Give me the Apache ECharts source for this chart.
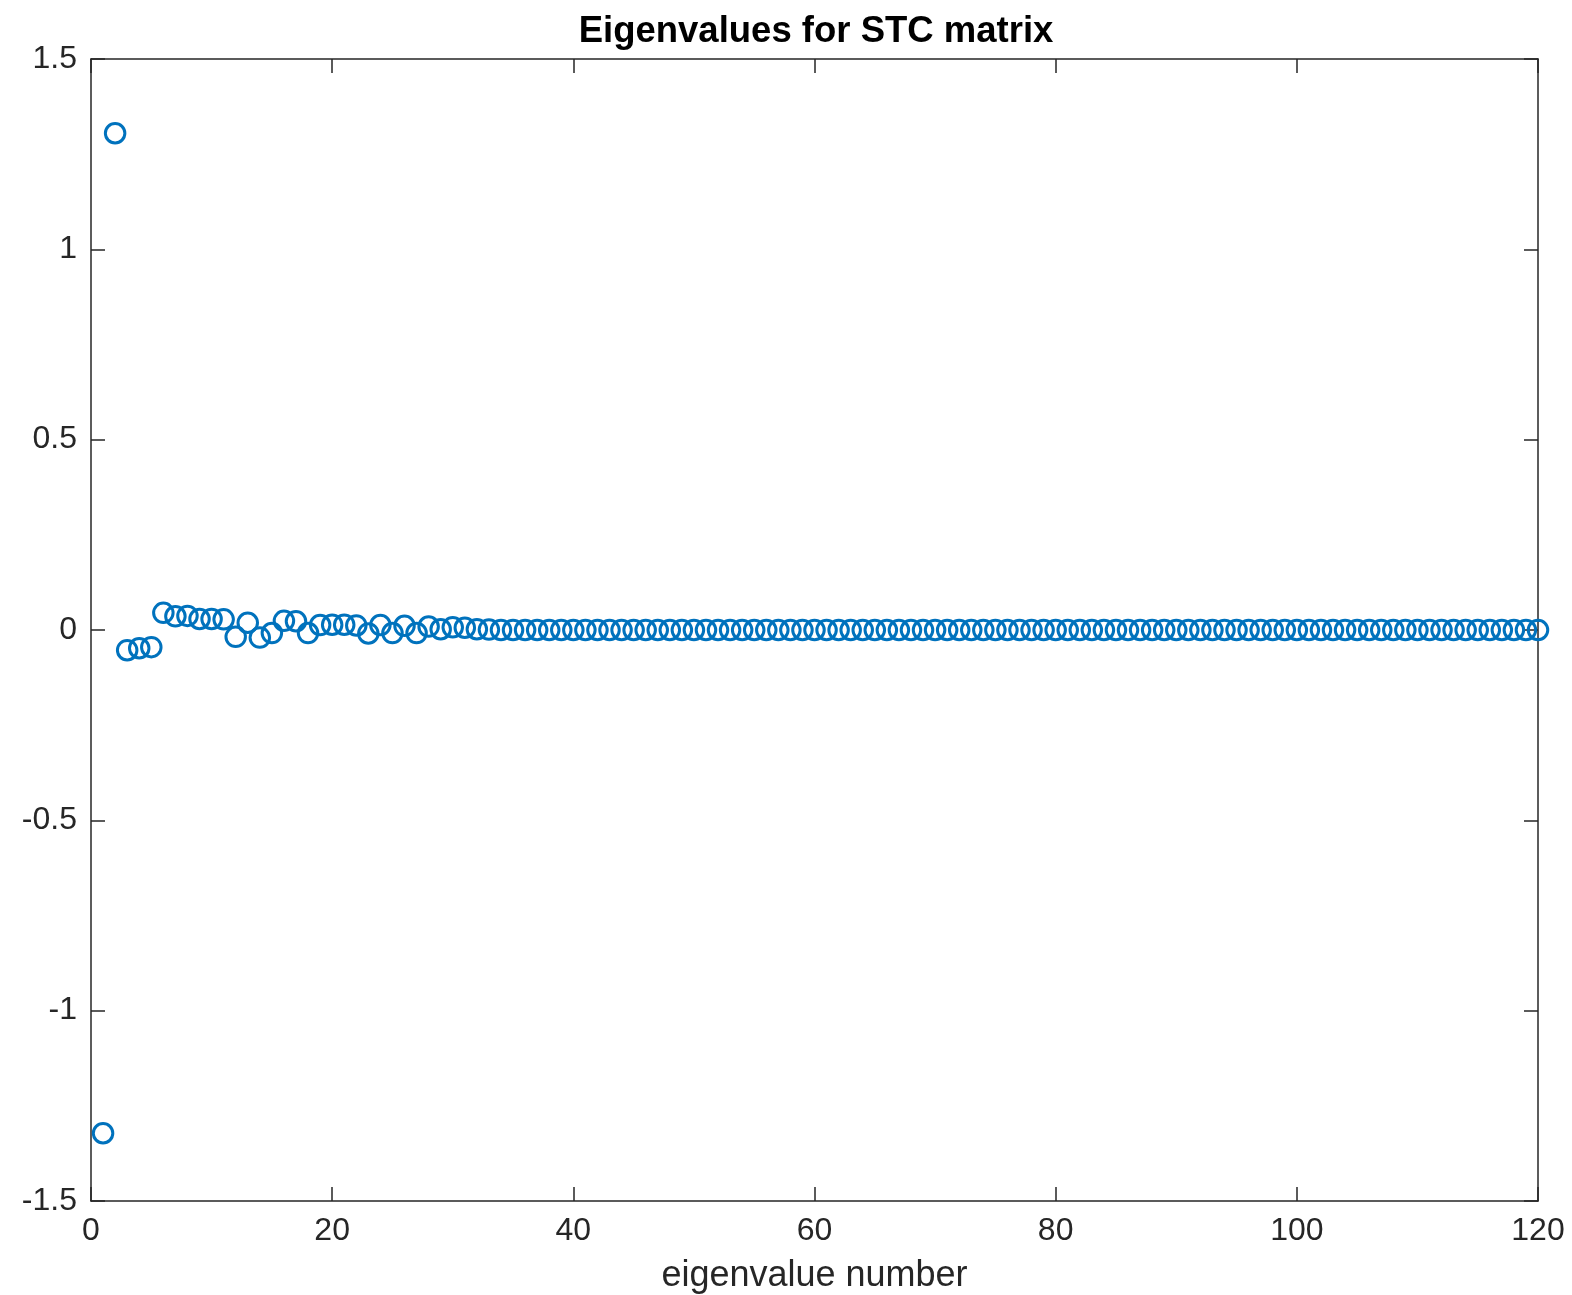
<!DOCTYPE html>
<html>
<head>
<meta charset="utf-8">
<script src="https://cdn.jsdelivr.net/npm/echarts@6/dist/echarts.min.js"></script>
<style>
html,body{margin:0;padding:0;background:#fff;}
#chart{width:1572px;height:1295px;}
</style>
</head>
<body>
<div id="chart"></div>
<script>
// Eigenvalue numbers (x) and eigenvalues (y)
const eigenNumbers = [
  1,2,3,4,5,6,7,8,9,10,11,12,13,14,15,16,17,18,19,20,
  21,22,23,24,25,26,27,28,29,30,31,32,33,34,35,36,37,38,39,40,
  41,42,43,44,45,46,47,48,49,50,51,52,53,54,55,56,57,58,59,60,
  61,62,63,64,65,66,67,68,69,70,71,72,73,74,75,76,77,78,79,80,
  81,82,83,84,85,86,87,88,89,90,91,92,93,94,95,96,97,98,99,100,
  101,102,103,104,105,106,107,108,109,110,111,112,113,114,115,116,117,118,119,120
];
const eigenValues = [
  -1.322, 1.305, -0.053, -0.048, -0.045, 0.045, 0.036, 0.037, 0.029, 0.029,
  0.028, -0.018, 0.019, -0.020, -0.008, 0.024, 0.023, -0.008, 0.013, 0.014,
  0.014, 0.012, -0.009, 0.013, -0.008, 0.011, -0.008, 0.009, 0.002, 0.007,
  0.006, 0.002, 0.001, 0, 0, 0, 0, 0, 0, 0,
  0, 0, 0, 0, 0, 0, 0, 0, 0, 0,
  0, 0, 0, 0, 0, 0, 0, 0, 0, 0,
  0, 0, 0, 0, 0, 0, 0, 0, 0, 0,
  0, 0, 0, 0, 0, 0, 0, 0, 0, 0,
  0, 0, 0, 0, 0, 0, 0, 0, 0, 0,
  0, 0, 0, 0, 0, 0, 0, 0, 0, 0,
  0, 0, 0, 0, 0, 0, 0, 0, 0, 0,
  0, 0, 0, 0, 0, 0, 0, 0, 0, 0
];
const xTicks = { min: 0, max: 120, interval: 20 };
const yTicks = { min: -1.5, max: 1.5, interval: 0.5 };
const titleText = 'Eigenvalues for STC matrix';
const xLabel = 'eigenvalue number';

const FONT = "'Liberation Sans', Arial, Helvetica, sans-serif";
const AX = '#262626';
const lineStyle = { color: AX, width: 1.5 };
const tickStyle = { show: true, inside: true, length: 14, lineStyle: { color: AX, width: 1.5 } };
const axisLine = { show: true, onZero: false, lineStyle };

const chart = echarts.init(document.getElementById('chart'), null, { renderer: 'canvas' });
chart.setOption({
  animation: false,
  backgroundColor: '#ffffff',
  title: {
    text: titleText,
    left: 811, textAlign: 'center',
    top: 8,
    textStyle: { fontFamily: FONT, fontWeight: 'bold', fontSize: 36.5, color: '#000' }
  },
  grid: { left: 91, right: 34, top: 59, bottom: 94, containLabel: false, outerBoundsMode: 'none' },
  xAxis: [
    {
      type: 'value', position: 'bottom',
      min: xTicks.min, max: xTicks.max, interval: xTicks.interval,
      axisLine, axisTick: tickStyle,
      splitLine: { show: false },
      axisLabel: { fontFamily: FONT, fontSize: 32, color: AX, margin: 14 },
      name: xLabel, nameLocation: 'middle', nameGap: 57,
      nameTextStyle: { fontFamily: FONT, fontSize: 36, color: AX }
    },
    {
      type: 'value', position: 'top',
      min: xTicks.min, max: xTicks.max, interval: xTicks.interval,
      axisLine, axisTick: tickStyle,
      splitLine: { show: false }, axisLabel: { show: false }
    }
  ],
  yAxis: [
    {
      type: 'value', position: 'left',
      min: yTicks.min, max: yTicks.max, interval: yTicks.interval,
      axisLine, axisTick: tickStyle,
      splitLine: { show: false },
      axisLabel: { fontFamily: FONT, fontSize: 32, color: AX, margin: 14 }
    },
    {
      type: 'value', position: 'right',
      min: yTicks.min, max: yTicks.max, interval: yTicks.interval,
      axisLine, axisTick: tickStyle,
      splitLine: { show: false }, axisLabel: { show: false }
    }
  ],
  series: [{
    type: 'scatter',
    xAxisIndex: 0, yAxisIndex: 0,
    symbol: 'circle',
    symbolSize: 19.5,
    itemStyle: { color: 'rgba(0,0,0,0)', borderColor: '#0072BD', borderWidth: 3, opacity: 1 },
    data: eigenNumbers.map((n, i) => [n, eigenValues[i]])
  }]
});
</script>
</body>
</html>
